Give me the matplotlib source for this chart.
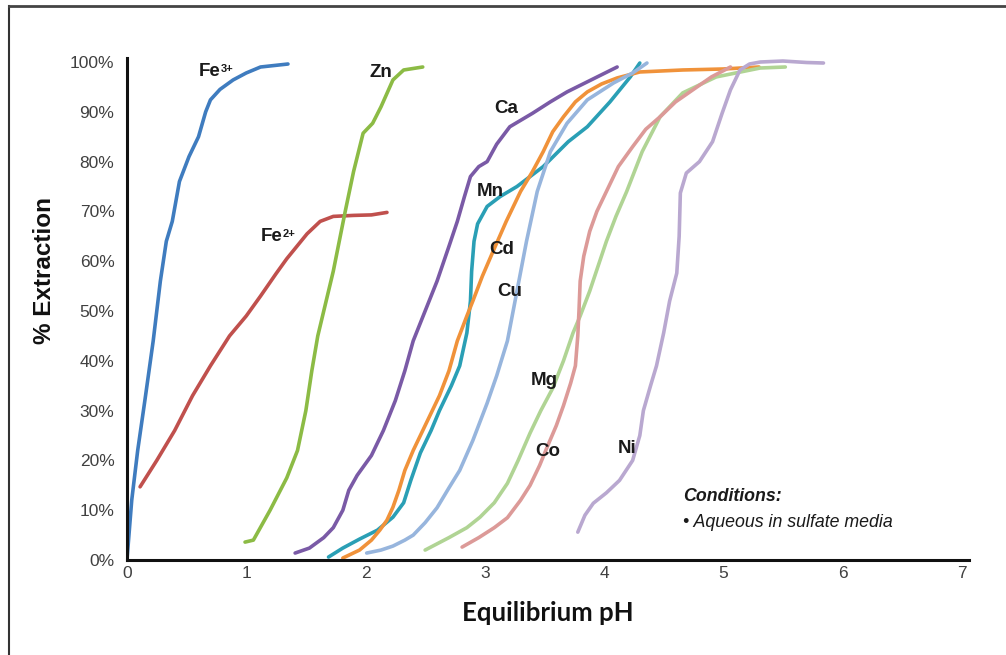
import matplotlib
matplotlib.use("Agg")
import matplotlib.pyplot as plt
from matplotlib.lines import Line2D

plt.rcParams['font.family'] = ['Liberation Sans', 'DejaVu Sans']

# pH / % extraction pairs
fe3_ph = [0, 0.04, 0.09, 0.15, 0.22, 0.28, 0.33, 0.38, 0.44, 0.52, 0.60, 0.66, 0.70, 0.78, 0.89, 1.0, 1.12, 1.35]
fe3_ext = [0, 12, 22, 32, 44, 56, 64, 68, 76, 81, 85, 90, 92.4, 94.5, 96.4, 97.8, 99, 99.6]

fe2_ph = [0.11, 0.25, 0.40, 0.55, 0.70, 0.86, 1.0, 1.12, 1.25, 1.34, 1.51, 1.62, 1.73, 1.90, 2.05, 2.18]
fe2_ext = [14.7, 20, 26, 33, 39, 45, 49, 53, 57.5, 60.5, 65.5, 68, 69, 69.2, 69.3, 69.8]

zn_ph = [0.99, 1.06, 1.20, 1.34, 1.43, 1.50, 1.55, 1.60, 1.66, 1.73, 1.83, 1.90, 1.98, 2.06, 2.13, 2.23, 2.32, 2.48]
zn_ext = [3.6, 4, 10, 16.5, 22, 30, 38, 45, 51, 58, 70, 78, 85.7, 87.7, 91, 96.4, 98.4, 99]

ca_ph = [1.41, 1.53, 1.65, 1.73, 1.81, 1.86, 1.93, 2.05, 2.15, 2.25, 2.33, 2.40, 2.50, 2.60, 2.70, 2.77,
         2.83, 2.88, 2.95, 3.02, 3.10, 3.21, 3.40, 3.55, 3.69, 3.90, 4.11]
ca_ext = [1.4, 2.4, 4.5, 6.5, 10, 14, 17, 21, 26, 32, 38, 44, 50, 56, 63, 68,
          73, 77, 79, 80, 83.5, 87, 89.7, 92, 94, 96.5, 99]

mn_ph = [1.69, 1.81, 1.95, 2.10, 2.23, 2.32, 2.38, 2.46, 2.55, 2.62, 2.72, 2.79, 2.85, 2.88, 2.89, 2.91,
         2.94, 3.02, 3.13, 3.27, 3.49, 3.70, 3.86, 4.05, 4.22, 4.30]
mn_ext = [0.6, 2.4, 4.2, 6, 8.6, 11.5, 16, 21.5, 26, 30, 35, 39, 45.6, 52, 58, 64,
          67.5, 71, 73, 75, 79, 84, 87, 92, 97, 99.8]

cd_ph = [1.81, 1.95, 2.05, 2.12, 2.18, 2.23, 2.28, 2.33, 2.40, 2.46, 2.54, 2.62, 2.70, 2.77, 2.85, 2.90,
         2.98, 3.07, 3.18, 3.30, 3.40, 3.49, 3.57, 3.66, 3.76, 3.86, 3.98, 4.11, 4.30, 4.66, 5.0, 5.3]
cd_ext = [0.4, 2, 4, 6, 8, 10.6, 14, 18, 22, 25, 29, 33, 38, 44, 49, 52,
          57, 62, 68, 74, 78, 82, 86, 89, 92, 94, 95.6, 96.8, 98, 98.4, 98.6, 99]

cu_ph = [2.01, 2.13, 2.23, 2.33, 2.40, 2.50, 2.60, 2.70, 2.79, 2.90, 3.02, 3.10, 3.19, 3.23, 3.27, 3.31,
         3.35, 3.44, 3.55, 3.69, 3.86, 4.08, 4.24, 4.36]
cu_ext = [1.4, 2, 2.8, 4, 5, 7.5, 10.5, 14.5, 18, 24, 31.5, 37, 44, 49, 54, 59,
          64, 74, 82, 87.7, 92.4, 95.8, 97.8, 99.8]

mg_ph = [2.50, 2.70, 2.85, 2.96, 3.08, 3.19, 3.28, 3.38, 3.47, 3.57, 3.66, 3.74, 3.80, 3.88, 3.95, 4.02,
         4.10, 4.19, 4.32, 4.47, 4.66, 4.94, 5.31, 5.52]
mg_ext = [2, 4.5, 6.5, 8.6, 11.5, 15.4, 20, 25.5, 30, 34.5, 40, 45.6, 49, 54, 59, 64,
          69, 74, 82, 89, 93.8, 97, 98.8, 99]

co_ph = [2.81, 2.95, 3.08, 3.19, 3.30, 3.38, 3.46, 3.52, 3.60, 3.66, 3.72, 3.76, 3.78, 3.79, 3.80, 3.83,
         3.88, 3.94, 4.02, 4.12, 4.24, 4.35, 4.47, 4.60, 4.75, 4.90, 5.06]
co_ext = [2.6, 4.5, 6.5, 8.5, 12, 15, 19, 22.5, 27, 31, 35.5, 39, 45, 50, 56, 61,
          66, 70, 74, 79, 83, 86.5, 89, 92, 94.5, 97, 99]

ni_ph = [3.78, 3.84, 3.91, 4.02, 4.13, 4.24, 4.30, 4.33, 4.39, 4.44, 4.50, 4.55, 4.61, 4.63, 4.64, 4.69,
         4.80, 4.91, 4.99, 5.06, 5.14, 5.22, 5.31, 5.50, 5.70, 5.84]
ni_ext = [5.6, 9, 11.4, 13.5, 16, 20, 25, 30, 35, 39, 45.6, 52, 57.6, 65, 73.7, 77.7,
          80, 84, 89.7, 94.4, 98.4, 99.6, 100, 100.2, 99.9, 99.8]

series = [
    (fe3_ph, fe3_ext, "#3f7cbf"),
    (fe2_ph, fe2_ext, "#c0504d"),
    (zn_ph, zn_ext, "#8cbb45"),
    (ca_ph, ca_ext, "#7a5aa6"),
    (mn_ph, mn_ext, "#2a9fb5"),
    (cd_ph, cd_ext, "#f0923a"),
    (cu_ph, cu_ext, "#97b5dd"),
    (mg_ph, mg_ext, "#b0d494"),
    (co_ph, co_ext, "#dc9a98"),
    (ni_ph, ni_ext, "#b9a8d0"),
]

# curve labels: text, superscript charge, position (pH, %)
labels = ["Fe", "Fe", "Zn", "Ca", "Mn", "Cd", "Cu", "Mg", "Co", "Ni"]
charges = ["3+", "2+", "", "", "", "", "", "", "", ""]
label_x = [0.69, 1.21, 2.13, 3.18, 3.05, 3.14, 3.21, 3.50, 3.53, 4.19]
label_y = [98.0, 65.0, 97.8, 90.6, 73.9, 62.4, 54.0, 36.0, 21.7, 22.3]

fig = plt.figure(figsize=(10.06, 6.55), dpi=100)
ax = fig.add_axes([0.1262, 0.145, 0.837, 0.7664])

for x, y, c in series:
    ax.plot(x, y, color=c, lw=2.6, solid_capstyle='round', solid_joinstyle='round')

for t, q, x, y in zip(labels, charges, label_x, label_y):
    txt = ax.text(x, y, t, fontsize=13.5, fontweight='bold', ha='center', va='center', color='#1a1a1a')
    if q:
        ax.annotate(q, xy=(1, 0.95), xycoords=txt, xytext=(0.3, 0), textcoords='offset points',
                    fontsize=8, fontweight='bold', ha='left', va='top', color='#1a1a1a')

ax.text(4.66, 12.7, "Conditions:", fontsize=12.8, fontweight='bold', fontstyle='italic',
        ha='left', va='center', color='#1a1a1a')
ax.text(4.66, 7.6, "\u2022 Aqueous in sulfate media", fontsize=12.8, fontstyle='italic',
        ha='left', va='center', color='#1a1a1a')

ax.set_xlim(0, 7.06)
ax.set_ylim(0, 100.8)
ax.set_xticks(range(0, 8))
ax.set_yticks(range(0, 101, 10))
ax.set_yticklabels([f"{v}%" for v in range(0, 101, 10)])
ax.tick_params(length=0, labelsize=12.5, labelcolor='#404040')
ax.tick_params(axis='y', pad=9)
ax.tick_params(axis='x', pad=4)
for s in ['top', 'right']:
    ax.spines[s].set_visible(False)
for s in ['left', 'bottom']:
    ax.spines[s].set_linewidth(2.2)
    ax.spines[s].set_color('#111111')

fig.text(45 / 1006, 1 - 270 / 655, "% Extraction", rotation=90, fontsize=17.5,
         fontweight='bold', ha='center', va='center', color='#111111')
fig.text(548 / 1006, 1 - 613 / 655, "Equilibrium pH", fontsize=18.5, fontweight='bold',
         family=['Lato', 'DejaVu Sans'], ha='center', va='center', color='#111111')

# frame left over from the cropped source image
fig.add_artist(Line2D([9 / 1006, 9 / 1006], [0, 1 - 6 / 655], color='#333333', lw=1.5))
fig.add_artist(Line2D([9 / 1006, 1], [1 - 6 / 655, 1 - 6 / 655], color='#444444', lw=2))

fig.savefig("out.png", dpi=100)
